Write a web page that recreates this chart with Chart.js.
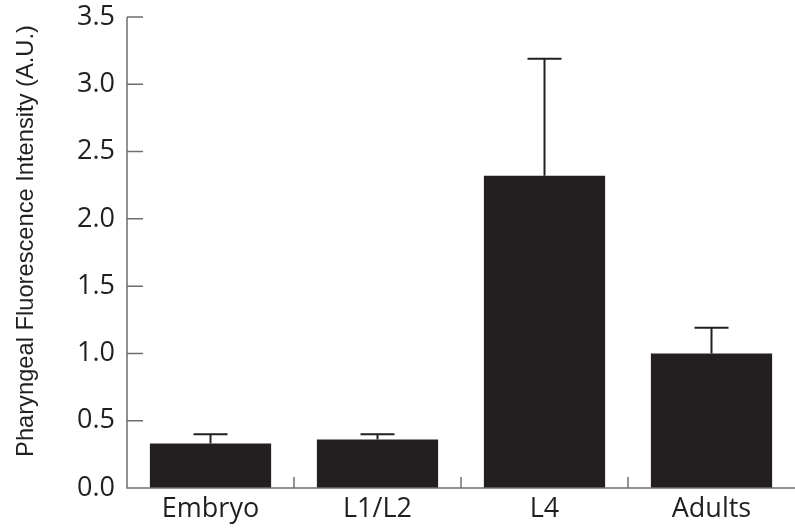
<!DOCTYPE html>
<html>
<head>
<meta charset="utf-8">
<script src="https://cdn.jsdelivr.net/npm/chart.js@4.4.0/dist/chart.umd.min.js"></script>
<style>
  html, body { margin: 0; padding: 0; background: #fff; }
  #wrap { width: 795px; height: 531px; }
</style>
</head>
<body>
<div id="wrap"><canvas id="fluoChart"></canvas></div>
<script>
// data
const stages = ['Embryo', 'L1/L2', 'L4', 'Adults'];
const meanIntensity = [0.33, 0.36, 2.32, 1.00];
const errorTop = [0.40, 0.40, 3.19, 1.19];
const yTicks = [0, 0.5, 1.0, 1.5, 2.0, 2.5, 3.0, 3.5];

const barColor = '#231f20';
const axisColor = '#6d6e71';

// axis lines, inward y ticks, small category separators, error bars, y title
const extrasPlugin = {
    id: 'extras',
    afterDatasetsDraw(chart) {
        const ctx = chart.ctx;
        const x = chart.scales.x;
        const y = chart.scales.y;
        const area = chart.chartArea;

        ctx.save();
        ctx.strokeStyle = axisColor;
        ctx.lineWidth = 1.5;
        ctx.beginPath();
        ctx.moveTo(area.left, area.top);
        ctx.lineTo(area.left, y.getPixelForValue(0));
        ctx.lineTo(chart.width, y.getPixelForValue(0));
        yTicks.forEach(v => {
            const py = y.getPixelForValue(v);
            ctx.moveTo(area.left, py);
            ctx.lineTo(area.left + 16, py);
        });
        for (let i = 1; i < stages.length; i++) {
            const bx = (x.getPixelForValue(i - 1) + x.getPixelForValue(i)) / 2;
            ctx.moveTo(bx, y.getPixelForValue(0));
            ctx.lineTo(bx, y.getPixelForValue(0) - 11);
        }
        ctx.stroke();

        // error bars (upper only)
        ctx.strokeStyle = barColor;
        ctx.lineWidth = 2;
        const meta = chart.getDatasetMeta(0);
        meta.data.forEach((bar, i) => {
            const top = y.getPixelForValue(errorTop[i]);
            ctx.beginPath();
            ctx.moveTo(bar.x, bar.y);
            ctx.lineTo(bar.x, top);
            ctx.moveTo(bar.x - 17, top);
            ctx.lineTo(bar.x + 17, top);
            ctx.stroke();
        });

        // y axis title
        ctx.fillStyle = '#231f20';
        ctx.font = '23.7px "Liberation Sans", Arial, sans-serif';
        ctx.textAlign = 'center';
        ctx.textBaseline = 'alphabetic';
        ctx.translate(33, 241);
        ctx.rotate(-Math.PI / 2);
        ctx.fillText('Pharyngeal Fluorescence Intensity (A.U.)', 0, 0);
        ctx.restore();
    }
};

const ctx = document.getElementById('fluoChart').getContext('2d');
new Chart(ctx, {
    type: 'bar',
    data: {
        labels: stages,
        datasets: [{
            data: meanIntensity,
            backgroundColor: barColor,
            borderWidth: 0,
            barPercentage: 0.726,
            categoryPercentage: 1.0
        }]
    },
    options: {
        responsive: true,
        maintainAspectRatio: false,
        animation: false,
        layout: { padding: { top: 17, right: 0, left: 0, bottom: 0 } },
        plugins: {
            legend: { display: false },
            tooltip: { enabled: false }
        },
        scales: {
            x: {
                grid: { display: false, drawTicks: false },
                border: { display: false },
                ticks: {
                    color: '#231f20',
                    padding: 5,
                    font: { family: '"Open Sans", sans-serif', size: 27 }
                },
                afterFit(scale) { scale.height = 43; }
            },
            y: {
                min: 0,
                max: 3.5,
                grid: { display: false, drawTicks: false },
                border: { display: false },
                afterBuildTicks(scale) {
                    scale.ticks = yTicks.map(v => ({ value: v }));
                },
                ticks: {
                    color: '#231f20',
                    padding: 12,
                    font: { family: '"Open Sans", sans-serif', size: 27, lineHeight: 0.3 },
                    callback: v => Number(v).toFixed(1)
                },
                afterFit(scale) { scale.width = 127; }
            }
        }
    },
    plugins: [extrasPlugin]
});
</script>
</body>
</html>
